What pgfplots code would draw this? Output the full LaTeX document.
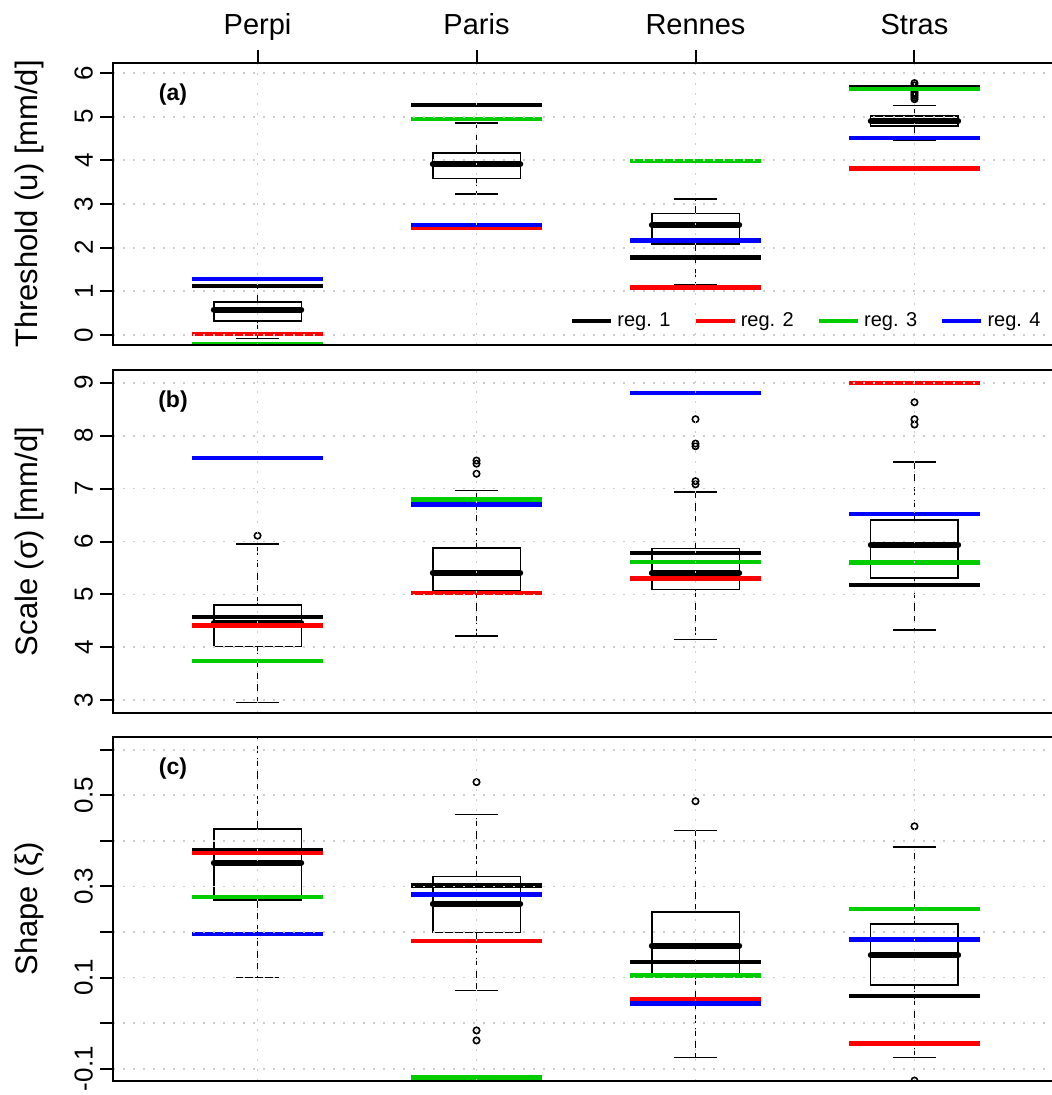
\documentclass[border=0pt]{standalone}
\usepackage{pgfplots}
\usepackage{pgfplotstable}
\pgfplotsset{compat=1.18}
\usepgfplotslibrary{statistics}
\usepackage{fontspec}
\setmainfont{Liberation Sans}
\setsansfont{Liberation Sans}

\definecolor{rgreen}{RGB}{0,205,0}
\definecolor{rblue}{RGB}{0,0,255}
\definecolor{rred}{RGB}{255,0,0}
\definecolor{gridgray}{RGB}{205,205,205}

% regional estimates: one row per station (1 Perpi, 2 Paris, 3 Rennes, 4 Stras)
\pgfplotstableread{
st r1   r2   r3    r4
1  1.12 0.02 -0.21 1.28
2  5.27 2.45 4.95  2.52
3  1.77 1.09 3.99  2.16
4  5.67 3.81 5.64  4.51
}\regA
\pgfplotstableread{
st r1   r2   r3   r4
1  4.57 4.41 3.74 7.58
2  6.71 5.03 6.79 6.70
3  5.78 5.30 5.61 8.81
4  5.18 9.00 5.60 6.52
}\regB
\pgfplotstableread{
st r1    r2     r3     r4
1  0.379 0.374  0.277  0.196
2  0.302 0.180  -0.119 0.282
3  0.134 0.053  0.105  0.043
4  0.059 -0.045 0.251  0.184
}\regC

\newcommand{\regline}[3]{% table, column, colour
  \addplot[forget plot, draw=none, no markers,
    error bars/.cd, x dir=both, x fixed=0.3, error mark=none,
    error bar style={draw=#3, line width=2.2pt, solid}]
    table[x=st, y=#2] {#1};}
\newcommand{\reglines}[1]{%
  \regline{#1}{r1}{black}\regline{#1}{r2}{rred}%
  \regline{#1}{r3}{rgreen}\regline{#1}{r4}{rblue}}

% draw position, lower whisker, lower quartile, median, upper quartile, upper whisker
\newcommand{\bx}[6]{%
  \addplot[forget plot, black, boxplot prepared={draw position=#1,
    lower whisker=#2, lower quartile=#3, median=#4,
    upper quartile=#5, upper whisker=#6}] coordinates {};}

\pgfplotsset{
  boxplot/draw direction=y,
  boxplot/box extend=0.4,
  boxplot/whisker extend=0.2,
  boxplot/every box/.style={draw=black, fill=white, line width=0.8pt},
  boxplot/every median/.style={draw=black, line width=2.9pt, line cap=round},
  boxplot/draw/lower whisker/.code={%
    \draw[line width=0.8pt, dash pattern=on 3.8pt off 2.5pt]
      (boxplot cs:\pgfplotsboxplotvalue{lower quartile}) --
      (boxplot cs:\pgfplotsboxplotvalue{lower whisker});
    \draw[line width=0.8pt]
      (boxplot whisker cs:\pgfplotsboxplotvalue{lower whisker},0) --
      (boxplot whisker cs:\pgfplotsboxplotvalue{lower whisker},1);},
  boxplot/draw/upper whisker/.code={%
    \draw[line width=0.8pt, dash pattern=on 3.8pt off 2.5pt]
      (boxplot cs:\pgfplotsboxplotvalue{upper quartile}) --
      (boxplot cs:\pgfplotsboxplotvalue{upper whisker});
    \draw[line width=0.8pt]
      (boxplot whisker cs:\pgfplotsboxplotvalue{upper whisker},0) --
      (boxplot whisker cs:\pgfplotsboxplotvalue{upper whisker},1);},
  panel/.style={
    scale only axis, width=473pt,
    xmin=0.34, xmax=4.66, xtick={1,2,3,4},
    tick align=outside, ytick pos=left,
    major tick length=6.5pt,
    every tick/.style={black, line width=1pt},
    axis line style={line width=1pt},
    grid=major,
    major grid style={gridgray, line width=0.9pt, dash pattern=on 0.9pt off 4.1pt},
    axis on top, clip marker paths=true,
    /pgf/number format/assume math mode=true,
    yticklabel style={rotate=90, anchor=south, font=\fontsize{13}{13}\selectfont},
    ylabel style={at={(axis description cs:-0.0888,0.5)}, anchor=center,
      font=\fontsize{15.5}{15.5}\selectfont},
    outl/.style={forget plot, only marks, mark=o, black, mark size=1.6pt,
      mark options={line width=0.8pt}},
  },
  lowpanel/.style={panel, xticklabels={}, x tick style={draw=none}},
}

\begin{document}
\begin{tikzpicture}
\useasboundingbox (0,0) rectangle (525.5pt,-547.5pt);

% (a) threshold
\begin{axis}[panel, at={(56.5pt,-31.5pt)}, anchor=north west, height=141pt,
  ymin=-0.23, ymax=6.23, ytick={0,1,2,3,4,5,6},
  xtick pos=right, xticklabel pos=right,
  xticklabels={Perpi,Paris,Rennes,Stras},
  xticklabel style={font=\fontsize{14.5}{14.5}\selectfont, text depth=0.2em, yshift=2pt},
  ylabel={Threshold (u) [mm/d]},
  legend columns=4,
  legend style={draw=none, fill=none, at={(0.9915,0.085)}, anchor=east,
    font=\fontsize{10}{10}\selectfont,
    /tikz/every even column/.append style={column sep=9.5pt}},
  legend image code/.code={\draw[#1, line width=2.2pt] (0pt,0pt) -- (19.5pt,0pt);},
]
\addlegendimage{black}\addlegendentry{reg. 1}
\addlegendimage{rred}\addlegendentry{reg. 2}
\addlegendimage{rgreen}\addlegendentry{reg. 3}
\addlegendimage{rblue}\addlegendentry{reg. 4}
\bx{1}{-0.08}{0.32}{0.58}{0.76}{1.10}
\bx{2}{3.23}{3.58}{3.91}{4.17}{4.85}
\bx{3}{1.15}{2.09}{2.52}{2.78}{3.12}
\bx{4}{4.47}{4.78}{4.90}{5.01}{5.26}
\addplot[outl] coordinates {(4,5.40)(4,5.44)(4,5.48)(4,5.52)(4,5.56)(4,5.60)(4,5.64)(4,5.68)(4,5.72)(4,5.77)};
\reglines{\regA}
\node[font=\bfseries\fontsize{11.5}{11.5}\selectfont] at (rel axis cs:0.0634,0.887) {(a)};
\end{axis}

% (b) scale
\begin{axis}[lowpanel, at={(56.5pt,-185pt)}, anchor=north west, height=171.5pt,
  ymin=2.76, ymax=9.24, ytick={3,4,5,6,7,8,9},
  ylabel={Scale (σ) [mm/d]},
]
\bx{1}{2.96}{4.02}{4.46}{4.80}{5.95}
\bx{2}{4.21}{5.07}{5.41}{5.88}{6.96}
\bx{3}{4.15}{5.09}{5.40}{5.87}{6.93}
\bx{4}{4.33}{5.31}{5.94}{6.41}{7.50}
\addplot[outl] coordinates {(1,6.11)(2,7.28)(2,7.47)(2,7.53)
  (3,7.08)(3,7.14)(3,7.80)(3,7.85)(3,8.31)(4,8.21)(4,8.31)(4,8.63)};
\reglines{\regB}
\node[font=\bfseries\fontsize{11.5}{11.5}\selectfont] at (rel axis cs:0.0634,0.907) {(b)};
\end{axis}

% (c) shape
\begin{axis}[lowpanel, at={(56.5pt,-368.5pt)}, anchor=north west, height=172pt,
  ymin=-0.127, ymax=0.628, ytick={-0.1,0,0.1,0.2,0.3,0.4,0.5,0.6},
  yticklabels={-0.1,,0.1,,0.3,,0.5,},
  ylabel={Shape (ξ)},
]
\bx{1}{0.100}{0.270}{0.352}{0.426}{0.70}
\bx{2}{0.072}{0.199}{0.262}{0.322}{0.458}
\bx{3}{-0.075}{0.100}{0.170}{0.244}{0.423}
\bx{4}{-0.075}{0.084}{0.149}{0.218}{0.387}
\addplot[outl] coordinates {(2,0.529)(2,-0.016)(2,-0.038)(3,0.487)(4,0.432)(4,-0.126)};
\reglines{\regC}
\node[font=\bfseries\fontsize{11.5}{11.5}\selectfont] at (rel axis cs:0.0634,0.907) {(c)};
\end{axis}
\end{tikzpicture}
\end{document}
